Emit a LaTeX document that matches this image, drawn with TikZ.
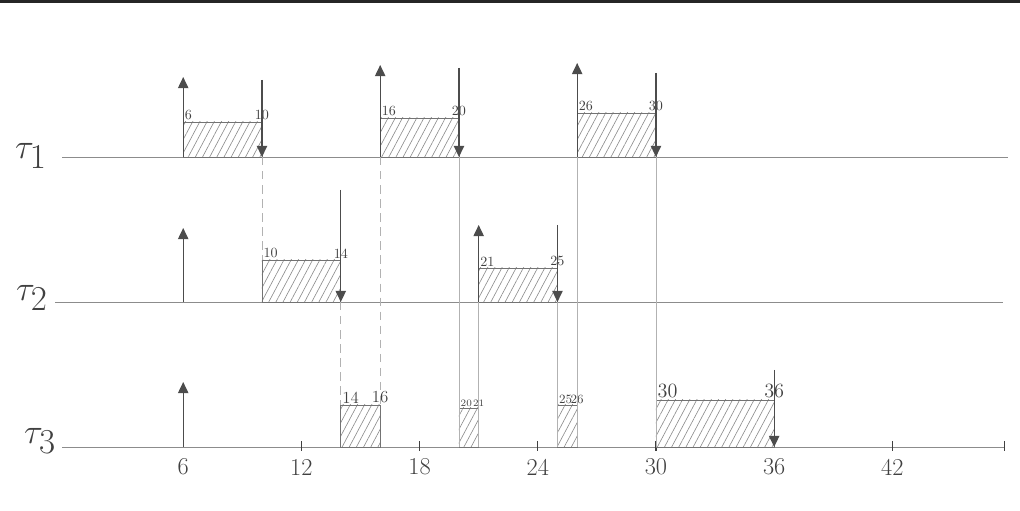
\documentclass[tikz,border=0pt]{standalone}
\usetikzlibrary{arrows.meta,patterns.meta,positioning}
\begin{document}
\begin{tikzpicture}[
  x=0.4925cm, y=1cm,
  >={Triangle[length=2.8mm,width=2.6mm]},
  axis/.style={black!45,line width=0.5pt},
  tick/.style={black!75,line width=0.8pt},
  release/.style={->,black!70,line width=0.9pt},
  deadline/.style={->,black!70,line width=0.9pt},
  guide/.style={black!30,line width=0.45pt},
  guidedash/.style={guide,dash pattern=on 6pt off 4pt},
  job/.style={draw=black!55,line width=0.6pt,
    pattern={Lines[angle=62,distance=4.5pt,line width=0.45pt]},pattern color=black!45},
  stamp/.style={text=black!75,inner sep=1pt},
  task/.style={font=\fontsize{36}{38}\selectfont,text=black!75}
]
\useasboundingbox (-3.3,0) rectangle (48.48,12.775);
\fill[black!85] (-3.3,12.7) rectangle (48.48,12.775);

% task rows and their names
\node[task] (tau1) at (-1.73,8.875) {$\tau_1$};
\node[task] (tau2) at (-1.68,5.325) {$\tau_2$};
\node[task] (tau3) at (-1.27,1.75) {$\tau_3$};
\coordinate (row1-s) at (-0.15,8.85);  \coordinate (row1-e) at (47.87,8.85);
\coordinate (row2-s) at (-0.5,5.225);  \coordinate (row2-e) at (47.6,5.225);
\coordinate (row3-s) at (-0.15,1.6);   \coordinate (row3-e) at (47.7,1.6);
\foreach \r in {1,2,3}{\draw[axis] (row\r-s) -- (row\r-e);}

% time axis under the third row
\foreach \t in {12,18,24,30,42,47.7}{
  \draw[tick] (\t,1.5) -- (\t,1.75);
}
\foreach \t in {6,12,18,24,30,36,42}{
  \node[stamp,font=\LARGE] (lab\t) at (\t,1.1) {\t};
}

% executed jobs: name/start/end/row/top/size
\foreach \n/\a/\b/\y/\h/\f in {
  j1a/6/10/8.85/9.725/\normalsize, j1b/16/20/8.85/9.825/\normalsize, j1c/26/30/8.85/9.95/\normalsize,
  j2a/10/14/5.225/6.275/\normalsize, j2b/21/25/5.225/6.075/\normalsize,
  j3a/14/16/1.6/2.65/\large, j3b/20/21/1.6/2.575/\scriptsize,
  j3c/25/26/1.6/2.65/\small, j3d/30/36/1.6/2.775/\Large}{
  \coordinate (\n-sw) at (\a,\y);
  \coordinate (\n-ne) at (\b,\h);
  \draw[job] (\n-sw) rectangle (\n-ne);
  \node[stamp,font=\f,anchor=south west] (\n-start) at (\n-sw |- \n-ne) {\a};
  \node[stamp,font=\f,anchor=south] (\n-end) at (\n-ne) {\b};
}

% guide lines carried down between the rows
\draw[guidedash] (row1-s -| 10,0) -- (j2a-sw |- j2a-ne);
\draw[guidedash] (row2-s -| 14,0) -- (j3a-sw |- j3a-ne);
\draw[guidedash] (row1-s -| 16,0) -- (j3a-ne);
\draw[guide] (row1-s -| 20,0) -- (j3b-sw);
\draw[guide] (row2-s -| 21,0) -- (j3b-sw -| j3b-ne);
\draw[guide] (row2-s -| 25,0) -- (j3c-sw);
\draw[guide] (row1-s -| 26,0) -- (j3c-sw -| j3c-ne);
\draw[guide] (row1-s -| 30,0) -- (j3d-sw);

% releases: name/time/row/tip
\foreach \n/\t/\y/\h in {
  rel1a/6/8.85/10.85, rel1b/16/8.85/11.15, rel1c/26/8.85/11.2,
  rel2a/6/5.225/7.075, rel2b/21/5.225/7.15,
  rel3a/6/1.6/3.225}{
  \coordinate (\n) at (\t,\y);
  \coordinate (\n-tip) at (\t,\h);
  \draw[release] (\n) -- (\n-tip);
}

% deadlines: name/time/row/top
\foreach \n/\t/\y/\h in {
  dl1a/10/8.85/10.775, dl1b/20/8.85/11.075, dl1c/30/8.85/10.95,
  dl2a/14/5.225/8.025, dl2b/25/5.225/7.15,
  dl3a/36/1.6/3.525}{
  \coordinate (\n) at (\t,\y);
  \coordinate (\n-top) at (\t,\h);
  \draw[deadline] (\n-top) -- (\n);
}
\end{tikzpicture}
\end{document}
